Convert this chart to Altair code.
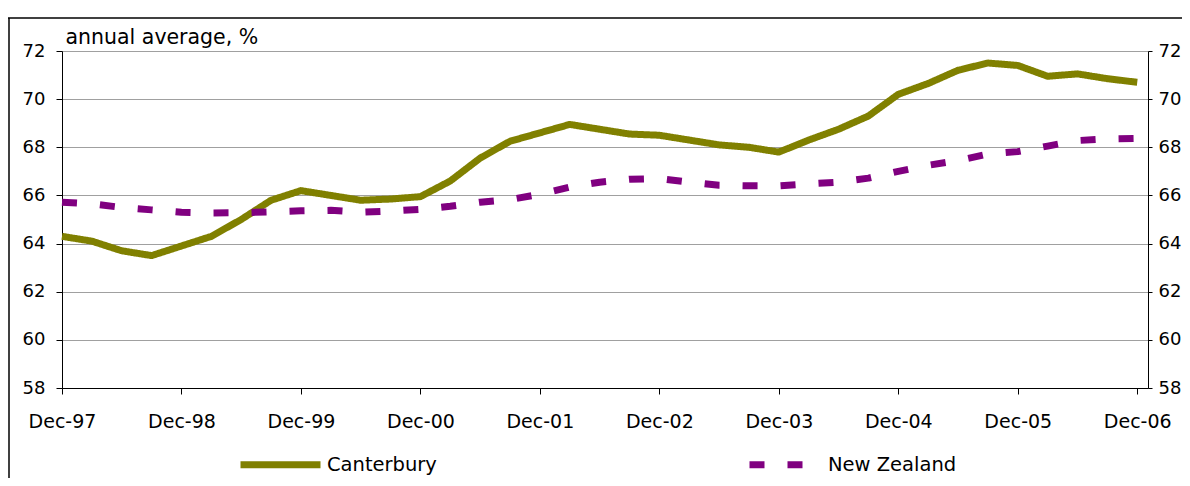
import altair as alt
import pandas as pd

# Quarterly data, Dec-97 .. Dec-06 (annual average, %)
tick_labels = ["Dec-97", "Dec-98", "Dec-99", "Dec-00", "Dec-01",
               "Dec-02", "Dec-03", "Dec-04", "Dec-05", "Dec-06"]
series_names = ["Canterbury", "New Zealand"]
canterbury = [64.3, 64.1, 63.7, 63.5, 63.9, 64.3, 65.0, 65.8, 66.2, 66.0,
              65.8, 65.85, 65.95, 66.6, 67.55, 68.25, 68.6, 68.95, 68.75, 68.55,
              68.5, 68.3, 68.1, 68.0, 67.8, 68.3, 68.75, 69.3, 70.2, 70.65,
              71.2, 71.5, 71.4, 70.95, 71.05, 70.85, 70.7]
new_zealand = [65.72, 65.65, 65.5, 65.4, 65.3, 65.27, 65.28, 65.32, 65.36, 65.38,
               65.3, 65.35, 65.42, 65.55, 65.72, 65.83, 66.05, 66.35, 66.55, 66.67,
               66.7, 66.55, 66.42, 66.4, 66.4, 66.48, 66.55, 66.72, 67.0, 67.25,
               67.45, 67.72, 67.82, 68.05, 68.28, 68.35, 68.37]
y_ticks = [58, 60, 62, 64, 66, 68, 70, 72]

rows = []
for i, v in enumerate(canterbury):
    rows.append({"q": i, "value": v, "series": series_names[0]})
for i, v in enumerate(new_zealand):
    rows.append({"q": i, "value": v, "series": series_names[1]})
df = pd.DataFrame(rows)

FONT = "DejaVu Sans"
label_expr = "[" + ",".join("'%s'" % t for t in tick_labels) + "][round(datum.value/4)]"

xscale = alt.Scale(domain=[0, 36.36], nice=False, zero=False)
xaxis = alt.Axis(values=[i * 4 for i in range(len(tick_labels))],
                 labelExpr=label_expr, title=None, grid=False,
                 domainColor="black", tickColor="black", tickSize=6,
                 labelPadding=18, labelFont=FONT, labelFontSize=19,
                 labelColor="black", labelFlush=False, labelOverlap=False,
                 labelBound=False)
yscale = alt.Scale(domain=[58, 72], nice=False, zero=False)

legend = alt.Legend(title=None, orient="none", direction="horizontal",
                    legendX=175, legendY=370, columnPadding=290,
                    symbolType="stroke", symbolSize=6400,
                    symbolStrokeWidth=7, symbolDashOffset=30, labelOffset=3,
                    labelFont=FONT, labelFontSize=19.5,
                    labelColor="black", padding=0)

lines = alt.Chart(df).mark_line(strokeWidth=7, strokeCap="butt", strokeJoin="round").encode(
    x=alt.X("q:Q", scale=xscale, axis=xaxis),
    y=alt.Y("value:Q", scale=yscale,
            axis=alt.Axis(orient="left", values=y_ticks, title="annual average, %",
                          titleAngle=0, titleAlign="left", titleBaseline="middle",
                          titleX=3, titleY=-14,
                          titleFont=FONT, titleFontSize=20.5, titleFontWeight="normal",
                          titleColor="black",
                          grid=True, gridColor="#a0a0a0", gridWidth=1,
                          domainColor="black", tickColor="black", tickSize=6,
                          labelPadding=11, labelFont=FONT, labelFontSize=18,
                          labelColor="black")),
    color=alt.Color("series:N",
                    scale=alt.Scale(domain=series_names, range=["#808000", "#800080"]),
                    legend=legend),
    strokeDash=alt.StrokeDash("series:N",
                              scale=alt.Scale(domain=series_names, range=[[1, 0], [15, 23]]),
                              legend=legend),
)

right_axis = alt.Chart(df).mark_line(opacity=0).encode(
    x=alt.X("q:Q", scale=xscale, axis=xaxis),
    y=alt.Y("value:Q", scale=yscale,
            axis=alt.Axis(orient="right", values=y_ticks, title=None, grid=False,
                          domainColor="black", tickColor="black", tickSize=4,
                          labelPadding=6, labelFont=FONT, labelFontSize=18,
                          labelColor="black")),
)

frame = pd.DataFrame({"k": [0]})
left_border = alt.Chart(frame).mark_rule(color="black", strokeWidth=1.5).encode(
    x=alt.value(-53), y=alt.value(-33), y2=alt.value(430))
top_border = alt.Chart(frame).mark_rule(color="black", strokeWidth=1.5).encode(
    x=alt.value(-54), x2=alt.value(1130), y=alt.value(-33))

chart = alt.layer(lines, right_axis, left_border, top_border).resolve_scale(
    y="shared").resolve_axis(y="independent").properties(
    width=1086, height=337,
    autosize=alt.AutoSizeParams(type="none"),
    padding={"left": 54, "top": 43, "right": 34, "bottom": 90},
).configure_view(stroke=None).configure(background="white")

chart.save("out.html", embed_options={"renderer": "svg", "actions": False})
